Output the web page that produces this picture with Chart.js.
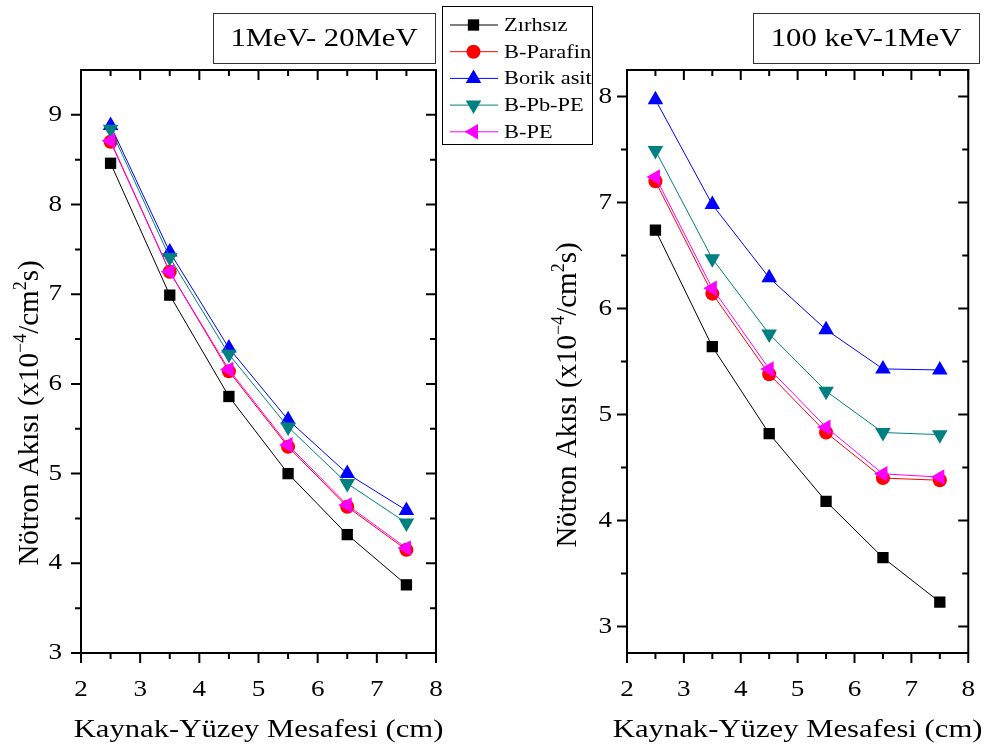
<!DOCTYPE html>
<html>
<head>
<meta charset="utf-8">
<title>Nötron Akısı</title>
<script src="https://cdn.jsdelivr.net/npm/chart.js@4.4.1/dist/chart.umd.min.js"></script>
<style>
  html, body { margin: 0; padding: 0; background: #fff; }
  #wrap { position: relative; width: 997px; height: 746px; }
  #wrap canvas { position: absolute; left: 0; top: 0; }
</style>
</head>
<body>
<div id="wrap">
  <canvas id="fastPanel" width="997" height="746"></canvas>
  <canvas id="slowPanel" width="997" height="746"></canvas>
</div>
<script>
// Source–surface distance (cm)
const distances = [2.5, 3.5, 4.5, 5.5, 6.5, 7.5];
const seriesNames = ['Zırhsız', 'B-Parafin', 'Borik asit', 'B-Pb-PE', 'B-PE'];

// Neutron flux, 1 MeV – 20 MeV band (x10^-4 /cm^2 s)
const zirhsizFast   = [8.46, 6.99, 5.86, 5.00, 4.32, 3.76];
const bParafinFast  = [8.70, 7.25, 6.14, 5.30, 4.63, 4.15];
const borikAsitFast = [8.88, 7.47, 6.40, 5.60, 5.00, 4.59];
const bPbPeFast     = [8.84, 7.41, 6.33, 5.52, 4.89, 4.45];
const bPeFast       = [8.71, 7.25, 6.16, 5.32, 4.65, 4.17];

// Neutron flux, 100 keV – 1 MeV band (x10^-4 /cm^2 s)
const zirhsizSlow   = [6.74, 5.64, 4.82, 4.18, 3.65, 3.23];
const bParafinSlow  = [7.20, 6.14, 5.38, 4.83, 4.40, 4.38];
const borikAsitSlow = [7.97, 6.98, 6.29, 5.80, 5.43, 5.42];
const bPbPeSlow     = [7.49, 6.47, 5.76, 5.22, 4.83, 4.81];
const bPeSlow       = [7.24, 6.19, 5.43, 4.88, 4.44, 4.41];

// Tick values and labels
const xTicks = [2, 3, 4, 5, 6, 7, 8];
const xTickLabels = ['2', '3', '4', '5', '6', '7', '8'];
const yTicksFast = [3, 4, 5, 6, 7, 8, 9];
const yTickLabelsFast = ['3', '4', '5', '6', '7', '8', '9'];
const yTicksSlow = [3, 4, 5, 6, 7, 8];
const yTickLabelsSlow = ['3', '4', '5', '6', '7', '8'];

const panelTitleFast = '1MeV- 20MeV';
const panelTitleSlow = '100 keV-1MeV';
const xAxisTitle = 'Kaynak-Yüzey Mesafesi (cm)';
// y title pieces: [text, isSuperscript]
const yAxisTitleParts = [['Nötron Akısı (x10', false], ['\u22124', true], ['/cm', false], ['2', true], ['s)', false]];

// Series styling
const seriesColors = ['#000000', '#ff0000', '#0000ff', '#008080', '#ff00ff'];
const markerStyles = ['rect', 'circle', 'triangle', 'triangle', 'triangle'];
const markerRotations = [0, 0, 0, 180, 270];
const markerRadii = [8, 7, 9, 9, 9];

const SERIF = '"Liberation Serif", "Times New Roman", serif';
const TEXT_WIDEN = 1.18;

// Horizontal text is drawn slightly wide (rotated text is left as is).
function widenText(ctx) {
  const base = ctx.fillText;
  ctx.fillText = function (text, x, y, maxWidth) {
    const m = this.getTransform();
    if (Math.abs(m.b) > 1e-6 || Math.abs(m.c) > 1e-6) {
      return maxWidth === undefined ? base.call(this, text, x, y) : base.call(this, text, x, y, maxWidth);
    }
    const p = m.transformPoint(new DOMPoint(x, y));
    this.save();
    this.setTransform(new DOMMatrix().translate(p.x, p.y).scale(TEXT_WIDEN, 1).translate(-p.x, -p.y).multiply(m));
    if (maxWidth === undefined) base.call(this, text, x, y);
    else base.call(this, text, x, y, maxWidth);
    this.restore();
  };
}

// Box frame with major/minor ticks: outward on bottom/left, inward on top/right.
const axisFrame = {
  id: 'axisFrame',
  beforeDatasetsDraw(chart) {
    const { ctx, chartArea: a, scales: { x, y } } = chart;
    const majorLen = 10, minorLen = 6;
    const minors = (scale) => {
      const vals = scale.ticks.map(t => t.value);
      const out = [];
      for (let i = 0; i < vals.length; i++) {
        const m = vals[i] + 0.5;
        if (m > scale.min && m < scale.max) out.push(m);
      }
      if (vals.length && vals[0] - 0.5 > scale.min) out.push(vals[0] - 0.5);
      return out;
    };
    ctx.save();
    ctx.strokeStyle = '#000';
    ctx.lineWidth = 2;
    ctx.strokeRect(a.left, a.top, a.right - a.left, a.bottom - a.top);
    ctx.beginPath();
    const xTick = (v, len) => {
      const px = x.getPixelForValue(v);
      ctx.moveTo(px, a.bottom); ctx.lineTo(px, a.bottom + len);
      ctx.moveTo(px, a.top); ctx.lineTo(px, a.top + len);
    };
    const yTick = (v, len) => {
      const py = y.getPixelForValue(v);
      ctx.moveTo(a.left - len, py); ctx.lineTo(a.left, py);
      ctx.moveTo(a.right - len, py); ctx.lineTo(a.right, py);
    };
    x.ticks.forEach(t => xTick(t.value, majorLen));
    minors(x).forEach(v => xTick(v, minorLen));
    y.ticks.forEach(t => yTick(t.value, majorLen));
    minors(y).forEach(v => yTick(v, minorLen));
    ctx.stroke();
    ctx.restore();
  }
};

// Boxed panel caption.
const panelTitle = {
  id: 'panelTitle',
  afterDraw(chart, args, o) {
    const ctx = chart.ctx;
    ctx.save();
    ctx.strokeStyle = '#333';
    ctx.lineWidth = 1;
    ctx.strokeRect(o.x + 0.5, o.y + 0.5, o.w, o.h);
    ctx.fillStyle = '#000';
    ctx.font = '26px ' + SERIF;
    ctx.textAlign = 'center';
    ctx.textBaseline = 'middle';
    ctx.fillText(o.text, o.x + o.w / 2, o.y + o.h / 2 + 1);
    ctx.restore();
  }
};

// Vertical y-axis title with superscripts.
const yTitle = {
  id: 'yTitle',
  afterDraw(chart, args, o) {
    const ctx = chart.ctx;
    const baseFont = '29px ' + SERIF, supFont = '18px ' + SERIF;
    ctx.save();
    ctx.fillStyle = '#000';
    ctx.textAlign = 'left';
    ctx.textBaseline = 'alphabetic';
    let total = 0;
    yAxisTitleParts.forEach(([t, sup]) => { ctx.font = sup ? supFont : baseFont; total += ctx.measureText(t).width; });
    ctx.translate(o.x, o.y);
    ctx.rotate(-Math.PI / 2);
    let cx = -total / 2;
    yAxisTitleParts.forEach(([t, sup]) => {
      ctx.font = sup ? supFont : baseFont;
      ctx.fillText(t, cx, sup ? -12 : 0);
      cx += ctx.measureText(t).width;
    });
    ctx.restore();
  }
};

// Shared series legend.
const seriesLegend = {
  id: 'seriesLegend',
  afterDraw(chart, args, o) {
    if (!o.display) return;
    const ctx = chart.ctx;
    ctx.save();
    ctx.fillStyle = '#fff';
    ctx.fillRect(o.x, o.y, o.w, o.h);
    ctx.strokeStyle = '#000';
    ctx.lineWidth = 1;
    ctx.strokeRect(o.x + 0.5, o.y + 0.5, o.w, o.h);
    chart.data.datasets.forEach((ds, i) => {
      const cy = o.y + o.firstRow + i * o.rowGap;
      ctx.strokeStyle = ds.borderColor;
      ctx.lineWidth = 1;
      ctx.beginPath();
      ctx.moveTo(o.x + 8, cy);
      ctx.lineTo(o.x + 56, cy);
      ctx.stroke();
      ctx.fillStyle = ds.pointBackgroundColor;
      Chart.helpers.drawPoint(ctx, {
        pointStyle: ds.pointStyle, radius: ds.pointRadius, rotation: ds.pointRotation, borderWidth: 0
      }, o.x + 31.5, cy);
      ctx.fillStyle = '#000';
      ctx.font = '19px ' + SERIF;
      ctx.textAlign = 'left';
      ctx.textBaseline = 'middle';
      ctx.fillText(ds.label, o.x + 62, cy + 1);
    });
    ctx.restore();
  }
};

function buildPanel(canvasId, series, cfg) {
  const ctx = document.getElementById(canvasId).getContext('2d');
  widenText(ctx);
  return new Chart(ctx, {
    type: 'line',
    data: {
      datasets: series.map((vals, i) => ({
        label: seriesNames[i],
        data: distances.map((d, k) => ({ x: d, y: vals[k] })),
        borderColor: seriesColors[i],
        backgroundColor: seriesColors[i],
        pointBackgroundColor: seriesColors[i],
        pointBorderColor: seriesColors[i],
        pointStyle: markerStyles[i],
        pointRotation: markerRotations[i],
        pointRadius: markerRadii[i],
        pointBorderWidth: 0,
        borderWidth: 1,
        tension: 0,
        fill: false,
        order: series.length - 1 - i
      }))
    },
    plugins: [axisFrame, panelTitle, yTitle, seriesLegend],
    options: {
      responsive: false,
      animation: false,
      events: [],
      layout: { padding: cfg.padding },
      plugins: {
        legend: { display: false },
        tooltip: { enabled: false },
        panelTitle: cfg.title,
        yTitle: cfg.yTitle,
        seriesLegend: cfg.legend
      },
      scales: {
        x: {
          type: 'linear',
          min: 2,
          max: 8,
          afterBuildTicks: s => { s.ticks = xTicks.map(v => ({ value: v })); },
          afterFit: s => { s.height = 93; },
          grid: { display: false, drawTicks: false },
          border: { display: false },
          ticks: {
            color: '#000',
            font: { family: SERIF, size: 23 },
            padding: 23,
            maxRotation: 0,
            callback: (v, i) => xTickLabels[i]
          },
          title: {
            display: true,
            text: xAxisTitle,
            color: '#000',
            font: { family: SERIF, size: 26 },
            padding: { top: 5, bottom: 0 }
          }
        },
        y: {
          type: 'linear',
          min: cfg.yMin,
          max: cfg.yMax,
          afterBuildTicks: s => { s.ticks = cfg.yTicks.map(v => ({ value: v })); },
          afterFit: s => { s.width = cfg.yWidth; },
          grid: { display: false, drawTicks: false },
          border: { display: false },
          ticks: {
            color: '#000',
            font: { family: SERIF, size: 23 },
            padding: cfg.yPad,
            callback: (v, i) => cfg.yLabels[i]
          }
        }
      }
    }
  });
}

buildPanel('fastPanel',
  [zirhsizFast, bParafinFast, borikAsitFast, bPbPeFast, bPeFast],
  {
    padding: { left: 0, right: 561, top: 70, bottom: 0 },
    yMin: 3, yMax: 9.5, yTicks: yTicksFast, yLabels: yTickLabelsFast,
    yWidth: 81, yPad: 19,
    title: { text: panelTitleFast, x: 213, y: 13, w: 222, h: 50 },
    yTitle: { x: 38, y: 413 },
    legend: { display: true, x: 442, y: 6, w: 150, h: 138, firstRow: 19, rowGap: 26.7 }
  });

buildPanel('slowPanel',
  [zirhsizSlow, bParafinSlow, borikAsitSlow, bPbPeSlow, bPeSlow],
  {
    padding: { left: 540, right: 14, top: 70, bottom: 0 },
    yMin: 2.75, yMax: 8.25, yTicks: yTicksSlow, yLabels: yTickLabelsSlow,
    yWidth: 87, yPad: 15,
    title: { text: panelTitleSlow, x: 753, y: 13, w: 226, h: 50 },
    yTitle: { x: 576, y: 395 },
    legend: { display: false }
  });
</script>
</body>
</html>
